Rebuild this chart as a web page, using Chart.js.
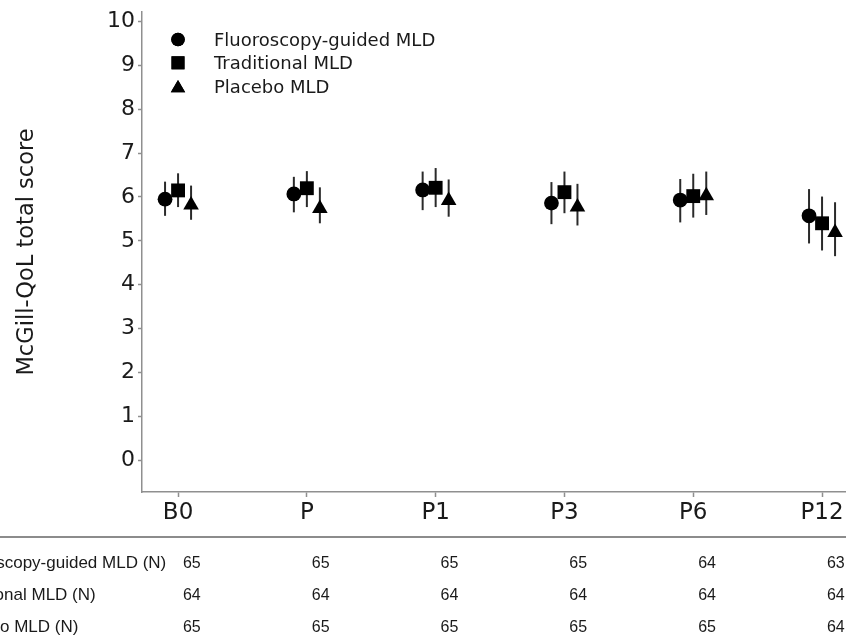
<!DOCTYPE html>
<html>
<head>
<meta charset="utf-8">
<script src="https://cdn.jsdelivr.net/npm/chart.js@4.4.1/dist/chart.umd.min.js"></script>
<style>
  html, body { margin: 0; padding: 0; background: #fff; }
  #wrap { width: 846px; height: 643px; position: relative; }
</style>
</head>
<body>
<div id="wrap"><canvas id="chart" width="846" height="643"></canvas></div>
<script>
const timepoints = ['B0', 'P', 'P1', 'P3', 'P6', 'P12'];
const groups = ['Fluoroscopy-guided MLD', 'Traditional MLD', 'Placebo MLD'];
const yTicks = [0, 1, 2, 3, 4, 5, 6, 7, 8, 9, 10];

// mean and 95% CI per group
const fluoroMean = [5.95, 6.07, 6.16, 5.86, 5.93, 5.57];
const fluoroLow  = [5.57, 5.65, 5.70, 5.38, 5.42, 4.94];
const fluoroHigh = [6.35, 6.46, 6.58, 6.34, 6.41, 6.18];

const tradMean = [6.15, 6.20, 6.21, 6.11, 6.02, 5.40];
const tradLow  = [5.77, 5.77, 5.77, 5.63, 5.53, 4.78];
const tradHigh = [6.54, 6.59, 6.66, 6.58, 6.53, 6.01];

const placeboMean = [5.82, 5.74, 5.92, 5.77, 6.03, 5.19];
const placeboLow  = [5.48, 5.40, 5.55, 5.35, 5.59, 4.65];
const placeboHigh = [6.26, 6.22, 6.40, 6.30, 6.58, 5.88];

// number of patients table
const tableLabels = ['Fluoroscopy-guided MLD (N)', 'Traditional MLD (N)', 'Placebo MLD (N)'];
const fluoroN  = [65, 65, 65, 65, 64, 63];
const tradN    = [64, 64, 64, 64, 64, 64];
const placeboN = [65, 65, 65, 65, 65, 64];

const DODGE = 0.101;
const TEXT = '#1a1a1a';
const AXIS = '#8f8f8f';

function series(mean, low, high, shift) {
  return mean.map((m, i) => ({ x: i + shift, y: m, lo: low[i], hi: high[i] }));
}

const styles = [
  { pointStyle: 'circle', radius: 7.4 },
  { pointStyle: 'rect', radius: 9.8 },
  { pointStyle: 'triangle', radius: 9 },
];

const datasets = [
  series(fluoroMean, fluoroLow, fluoroHigh, -DODGE),
  series(tradMean, tradLow, tradHigh, 0),
  series(placeboMean, placeboLow, placeboHigh, DODGE),
].map((data, k) => ({
  label: groups[k],
  data,
  pointStyle: styles[k].pointStyle,
  pointRadius: styles[k].radius,
  pointHoverRadius: styles[k].radius,
  backgroundColor: '#000',
  borderColor: '#000',
  borderWidth: 0,
  showLine: false,
}));

const errorBars = {
  id: 'errorBars',
  beforeDatasetsDraw(chart) {
    const ctx = chart.ctx;
    const y = chart.scales.y;
    ctx.save();
    ctx.strokeStyle = '#2a2a2a';
    ctx.lineWidth = 2;
    chart.data.datasets.forEach((ds, k) => {
      chart.getDatasetMeta(k).data.forEach((pt, i) => {
        const d = ds.data[i];
        ctx.beginPath();
        ctx.moveTo(pt.x, y.getPixelForValue(d.lo));
        ctx.lineTo(pt.x, y.getPixelForValue(d.hi));
        ctx.stroke();
      });
    });
    ctx.restore();
  }
};

const legendAndTable = {
  id: 'legendAndTable',
  afterDraw(chart) {
    const ctx = chart.ctx;
    const x = chart.scales.x;
    ctx.save();

    // legend, top left inside the plot
    const legendSizes = [6.8, 9.2, 8.3];
    groups.forEach((g, k) => {
      const cy = 39.5 + k * 23.3;
      const r = legendSizes[k];
      ctx.fillStyle = '#000';
      Chart.helpers.drawPoint(ctx, { pointStyle: styles[k].pointStyle, radius: r, borderWidth: 0 },
        178, styles[k].pointStyle === 'triangle' ? cy + r / 4 : cy);
      ctx.fill();
      ctx.fillStyle = TEXT;
      ctx.font = '18px "DejaVu Sans"';
      ctx.textAlign = 'left';
      ctx.textBaseline = 'alphabetic';
      ctx.fillText(g, 214, cy + 6.5);
    });

    // table under the x axis
    ctx.strokeStyle = '#666';
    ctx.lineWidth = 1.5;
    ctx.beginPath();
    ctx.moveTo(0, 537);
    ctx.lineTo(chart.width, 537);
    ctx.stroke();

    const rows = [fluoroN, tradN, placeboN];
    ctx.fillStyle = TEXT;
    rows.forEach((vals, r) => {
      const base = 568 + r * 32;
      ctx.font = '17px "Liberation Sans", Arial, sans-serif';
      ctx.textAlign = 'left';
      ctx.fillText(tableLabels[r], -52, base);
      ctx.font = '16px "Liberation Sans", Arial, sans-serif';
      ctx.textAlign = 'center';
      vals.forEach((v, i) => {
        ctx.fillText(String(v), x.getPixelForValue(i + 0.107), base);
      });
    });
    ctx.restore();
  }
};

new Chart(document.getElementById('chart'), {
  type: 'scatter',
  data: { datasets },
  plugins: [errorBars, legendAndTable],
  options: {
    responsive: false,
    animation: false,
    layout: { autoPadding: false, padding: { top: 12, right: 0, bottom: 0, left: 0 } },
    plugins: { legend: { display: false }, tooltip: { enabled: false } },
    scales: {
      x: {
        type: 'linear',
        min: -0.28,
        max: 5.186,
        afterBuildTicks: s => { s.ticks = timepoints.map((_, i) => ({ value: i })); },
        afterFit: s => { s.height = 151; s.paddingLeft = 0; s.paddingRight = 0; },
        ticks: {
          callback: v => timepoints[v],
          color: TEXT,
          font: { family: 'DejaVu Sans', size: 23 },
          padding: 2,
          maxRotation: 0,
        },
        grid: { drawOnChartArea: false, tickLength: 5, tickColor: AXIS, tickWidth: 1.5 },
        border: { color: AXIS, width: 1.5 },
      },
      y: {
        type: 'linear',
        min: -0.73,
        max: 10.22,
        afterBuildTicks: s => { s.ticks = yTicks.map(v => ({ value: v })); },
        afterFit: s => { s.width = 142; s.paddingTop = 0; s.paddingBottom = 0; },
        ticks: {
          color: TEXT,
          font: { family: 'DejaVu Sans', size: 22 },
          padding: 3,
        },
        grid: { drawOnChartArea: false, tickLength: 4, tickColor: AXIS, tickWidth: 1.5 },
        border: { color: AXIS, width: 1.5 },
        title: {
          display: true,
          text: 'McGill-QoL total score',
          color: TEXT,
          font: { family: 'DejaVu Sans', size: 22.5 },
          padding: { top: 14, bottom: 0 },
        },
      },
    },
  },
});
</script>
</body>
</html>
